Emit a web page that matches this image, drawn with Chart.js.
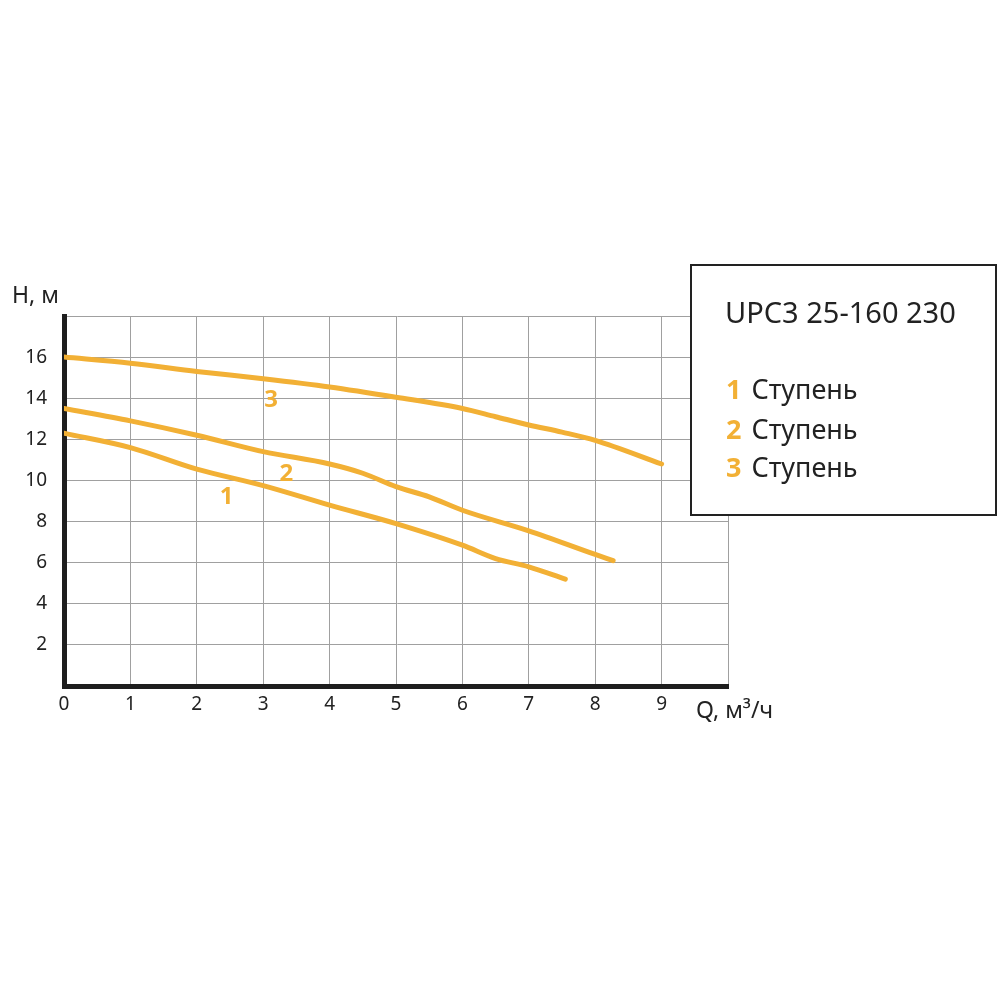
<!DOCTYPE html>
<html><head><meta charset="utf-8">
<script src="https://cdn.jsdelivr.net/npm/chart.js@4/dist/chart.umd.min.js"></script>
<style>html,body{margin:0;padding:0;background:#fff}#wrap{width:1000px;height:1000px;position:relative}</style>
</head><body><div id="wrap"><canvas id="c" width="1000" height="1000"></canvas></div>
<script>
const stage1Q = [0, 1, 2, 3, 4, 5, 6, 6.5, 7, 7.55];
const stage1H = [12.3, 11.6, 10.55, 9.75, 8.8, 7.9, 6.85, 6.2, 5.8, 5.2];
const stage2Q = [0, 1, 2, 3, 4, 4.5, 5, 5.5, 6, 7, 8, 8.27];
const stage2H = [13.5, 12.9, 12.2, 11.4, 10.8, 10.35, 9.7, 9.2, 8.55, 7.55, 6.4, 6.1];
const stage3Q = [0, 1, 2, 3, 4, 5, 6, 6.5, 7, 7.5, 8, 9];
const stage3H = [16.0, 15.7, 15.3, 14.95, 14.55, 14.05, 13.5, 13.1, 12.7, 12.35, 11.95, 10.8];
const stageNames = ['1', '2', '3'];
const legendText = 'Ступень';
const title = 'UPC3 25-160 230';
const yTicks = [2, 4, 6, 8, 10, 12, 14, 16];
const xTicks = [0, 1, 2, 3, 4, 5, 6, 7, 8, 9];
const curveLabelQ = [2.45, 3.35, 3.12];
const curveLabelH = [9.2, 10.3, 13.9];
const yTitle = 'H, м';
const xTitle = 'Q, м³/ч';

const ORANGE = '#F2B035';
function pts(q, h) { return q.map((v, i) => ({x: v, y: h[i]})); }

const overlay = {
  id: 'overlay',
  afterDatasetsDraw(chart) {
    const ctx = chart.ctx, xs = chart.scales.x, ys = chart.scales.y;
    ctx.save();
    ctx.fillStyle = ORANGE;
    ctx.font = 'bold 24px "Noto Sans"';
    ctx.textAlign = 'center'; ctx.textBaseline = 'middle';
    for (let i = 0; i < 3; i++) {
      ctx.fillText(stageNames[i], xs.getPixelForValue(curveLabelQ[i]), ys.getPixelForValue(curveLabelH[i]));
    }
    ctx.fillStyle = '#222';
    ctx.font = '23px "Noto Sans"';
    ctx.textAlign = 'left'; ctx.textBaseline = 'middle';
    ctx.fillText(yTitle, 12, 296);
    ctx.fillText(xTitle, 696, 711);
    ctx.fillStyle = '#fff';
    ctx.fillRect(691, 265, 305, 250);
    ctx.strokeStyle = '#222'; ctx.lineWidth = 2;
    ctx.strokeRect(691, 265, 305, 250);
    ctx.fillStyle = '#222';
    ctx.font = '29px "Noto Sans"';
    ctx.textBaseline = 'middle';
    ctx.fillText(title, 725, 315);
    const rows = [391, 431, 469];
    for (let i = 0; i < 3; i++) {
      ctx.font = 'bold 27px "Noto Sans"';
      ctx.fillStyle = ORANGE;
      ctx.fillText(stageNames[i], 726, rows[i]);
      const w = ctx.measureText(stageNames[i]).width;
      ctx.font = '27px "Noto Sans"';
      ctx.fillStyle = '#222';
      ctx.fillText(legendText, 726 + w + 10, rows[i]);
    }
    ctx.restore();
  }
};

const ds = [[stage1Q, stage1H], [stage2Q, stage2H], [stage3Q, stage3H]].map((a, i) => ({
  label: stageNames[i] + ' ' + legendText,
  data: pts(a[0], a[1]),
  borderColor: ORANGE, backgroundColor: ORANGE,
  borderWidth: 5, pointRadius: 0, tension: 0.35, cubicInterpolationMode: 'monotone',
  borderCapStyle: 'round', fill: false
}));

new Chart(document.getElementById('c'), {
  type: 'line',
  data: { datasets: ds },
  plugins: [overlay],
  options: {
    responsive: false, animation: false, devicePixelRatio: 1,
    layout: { padding: { top: 316, right: 272, bottom: 274, left: 0 } },
    plugins: { legend: { display: false }, tooltip: { enabled: false } },
    scales: {
      x: {
        type: 'linear', min: 0, max: 10,
        afterFit(s) { s.height = 40; },
        afterBuildTicks(s) { s.ticks = xTicks.map(v => ({value: v})).concat([{value: 10}]); },
        grid: { color: '#a0a0a0', lineWidth: 1, drawTicks: false },
        border: { display: true, color: '#1e1e1e', width: 5 },
        ticks: { padding: 7, color: '#222', font: { family: 'Noto Sans', size: 19 },
          callback: v => xTicks.includes(v) ? String(v) : '' }
      },
      y: {
        min: 0, max: 18,
        afterFit(s) { s.width = 64; },
        afterBuildTicks(s) { s.ticks = [0].concat(yTicks).concat([18]).map(v => ({value: v})); },
        grid: { color: '#a0a0a0', lineWidth: 1, drawTicks: false },
        border: { display: true, color: '#1e1e1e', width: 5 },
        ticks: { padding: 17, color: '#222', font: { family: 'Noto Sans', size: 19 },
          callback: v => yTicks.includes(v) ? String(v) : '' }
      }
    }
  }
});
</script></body></html>
